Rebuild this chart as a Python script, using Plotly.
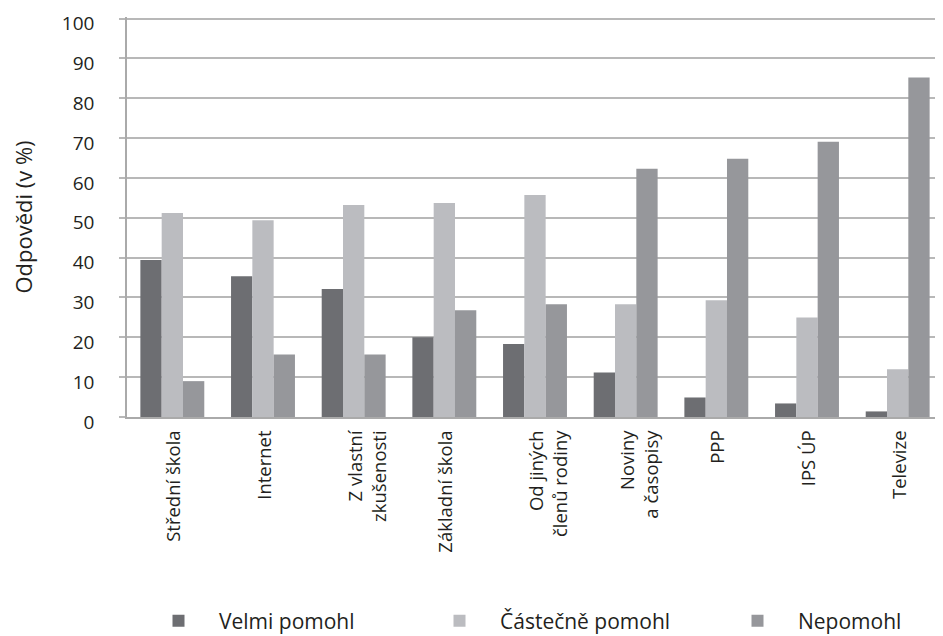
import plotly.graph_objects as go

NB = "\u00a0"
categories = ["Střední škola<br>" + NB, "Internet<br>" + NB, "Z vlastní<br>zkušenosti",
              "Základní škola<br>" + NB, "Od jiných<br>členů rodiny", "Noviny<br>a časopisy",
              "PPP<br>" + NB, "IPS ÚP<br>" + NB, "Televize<br>" + NB]
velmi = [39.4, 35.3, 32.1, 20.0, 18.3, 11.2, 4.9, 3.4, 1.4]
castecne = [51.2, 49.4, 53.2, 53.7, 55.7, 28.3, 29.3, 25.0, 12.0]
nepomohl = [9.0, 15.7, 15.7, 26.8, 28.3, 62.3, 64.8, 69.1, 85.2]
series_names = ["Velmi pomohl", "Částečně pomohl", "Nepomohl"]
colors = ["#6d6e72", "#bbbcc0", "#96979b"]
y_ticks = [0, 10, 20, 30, 40, 50, 60, 70, 80, 90, 100]

FONT = "Open Sans"
TXT = "#231f20"
# the page body has an 8px margin, so the figure is made 8px smaller
W, H = 935, 628

fig = go.Figure()
for i, (name, vals) in enumerate(zip(series_names, [velmi, castecne, nepomohl])):
    fig.add_trace(go.Bar(
        x=categories, y=vals, name=name,
        marker=dict(color=colors[i], line=dict(width=0)),
        legend="legend" if i == 0 else f"legend{i+1}",
    ))

leg_common = dict(orientation="h", xref="container", yref="container",
                  xanchor="left", yanchor="middle", y=15/H,
                  font=dict(family=FONT, size=21, color=TXT),
                  bgcolor="rgba(0,0,0,0)", itemwidth=71)

fig.update_layout(
    width=W, height=H,
    margin=dict(l=119, r=0, t=9.4, b=219),
    paper_bgcolor="white", plot_bgcolor="white",
    barmode="group", bargap=0.295, bargroupgap=0,
    font=dict(family=FONT, color=TXT),
    legend=dict(x=130/W, **leg_common),
    legend2=dict(x=411/W, **leg_common),
    legend3=dict(x=709/W, **leg_common),
    xaxis=dict(
        tickangle=-90, tickfont=dict(family=FONT, size=18.5, color=TXT),
        showline=True, linecolor="#aaaaaa", linewidth=2,
        ticks="", showgrid=False, automargin=False,
        ticklabelshift=14, ticklabelstandoff=4,
    ),
    yaxis=dict(
        range=[0, 100.4], tickvals=y_ticks,
        tickfont=dict(family=FONT, size=19, color=TXT),
        ticklabeloverflow="allow", ticklabelshift=5,
        showgrid=True, gridcolor="#b8b8b8", gridwidth=1.5,
        showline=True, linecolor="#aaaaaa", linewidth=1.5,
        ticks="outside", ticklen=6, tickcolor="#b8b8b8", tickwidth=1.5,
        ticklabelstandoff=21, automargin=False,
        title=dict(text="Odpovědi (v %)", font=dict(family=FONT, size=22, color=TXT),
                   standoff=44),
        zeroline=False,
    ),
    showlegend=True,
)

fig.write_html("out.html")
